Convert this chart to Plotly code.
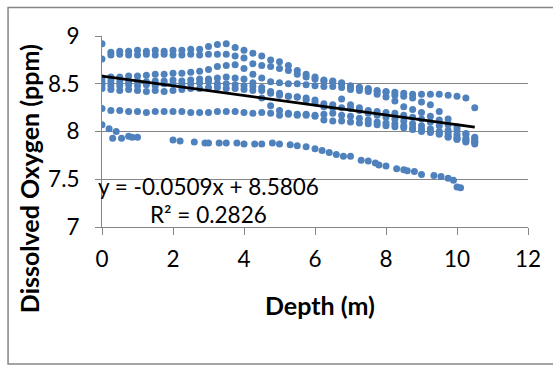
import plotly.graph_objects as go

# ---------------- data ----------------
DEPTH_GRID = [0, 0.25, 0.5, 0.75, 1.0, 1.25, 1.5, 1.75, 2.0, 2.25, 2.5, 2.75, 3.0, 3.25,
              3.5, 3.75, 4.0, 4.25, 4.5, 4.75, 5.0, 5.25, 5.5, 5.75, 6.0, 6.25, 6.5, 6.75,
              7.0, 7.25, 7.5, 7.75, 8.0, 8.25, 8.5, 8.75, 9.0, 9.25, 9.5, 9.75, 10.0, 10.25, 10.5]

DO_P1 = [8.92, 8.83, 8.84, 8.84, 8.85, 8.84, 8.85, 8.84, 8.85, 8.85, 8.86, 8.86, 8.89, 8.91,
         8.92, 8.88, 8.85, 8.82, 8.79, 8.75, 8.73, 8.69, 8.64, 8.60, 8.57, 8.54, 8.53, 8.51,
         8.48, 8.46, 8.45, 8.43, 8.42, 8.41, 8.40, 8.39, 8.39, 8.39, 8.39, 8.38, 8.37, 8.35, 8.25]
DO_P2 = [8.76, 8.80, 8.81, 8.80, 8.80, 8.81, 8.80, 8.81, 8.80, 8.80, 8.81, 8.80, 8.81, 8.81,
         8.81, 8.79, 8.77, 8.71, 8.69, 8.68, 8.66, 8.64, 8.60, 8.57, 8.55, 8.53, 8.52, 8.50,
         8.47, 8.46, 8.44, 8.42, 8.41, 8.38, 8.37, 8.35, 8.31, 8.28, 8.21, 8.13, 8.05, 7.98, 7.94]
DO_P3 = [8.56, 8.57, 8.57, 8.58, 8.58, 8.59, 8.60, 8.60, 8.61, 8.61, 8.62, 8.63, 8.65, 8.68,
         8.69, 8.70, 8.66, 8.60, 8.56, 8.52, 8.51, 8.50, 8.50, 8.49, 8.48, 8.47, 8.47, 8.46,
         8.44, 8.43, 8.42, 8.39, 8.36, 8.32, 8.26, 8.23, 8.20, 8.16, 8.12, 8.07, 8.02, 7.97, 7.93]
DO_P4 = [8.52, 8.53, 8.52, 8.52, 8.53, 8.52, 8.53, 8.53, 8.54, 8.53, 8.54, 8.55, 8.55, 8.56,
         8.57, 8.56, 8.55, 8.51, 8.43, 8.40, 8.38, 8.37, 8.36, 8.35, 8.33, 8.29, 8.28, 8.25,
         8.24, 8.22, 8.19, 8.17, 8.15, 8.13, 8.11, 8.08, 8.06, 8.03, 8.00, 7.98, 7.94, 7.91, 7.89]
DO_P5 = [8.45, 8.44, 8.43, 8.44, 8.43, 8.42, 8.43, 8.42, 8.43, 8.44, 8.45, 8.45, 8.46, 8.46,
         8.45, 8.45, 8.44, 8.43, 8.35, 8.27, 8.22, 8.19, 8.18, 8.18, 8.16, 8.12, 8.11, 8.11,
         8.10, 8.09, 8.08, 8.07, 8.06, 8.05, 8.04, 8.02, 8.00, 7.99, 7.97, 7.94, 7.92, 7.89, 7.87]
DO_P6 = [8.24, 8.22, 8.22, 8.21, 8.21, 8.20, 8.21, 8.21, 8.21, 8.21, 8.20, 8.20, 8.20, 8.21,
         8.21, 8.21, 8.20, 8.19, 8.20, 8.19, 8.17, 8.18, 8.17, 8.17, 8.17, 8.18, 8.19, 8.17,
         8.16, 8.14, 8.12, 8.10, 8.09, 8.08, 8.06, 8.04, 8.02, 8.00, 7.98, 7.95, 7.92, 7.90, 7.89]
DO_P8 = [8.49, 8.48, 8.48, 8.49, 8.48, 8.49, 8.48, 8.50, 8.50, 8.49, 8.50, 8.51, 8.52, 8.50,
         8.50, 8.49, 8.48, 8.47, 8.46, 8.42, 8.40, 8.37, 8.36, 8.33, 8.30, 8.26, 8.25, 8.34,
         8.28, 8.25, 8.22, 8.21, 8.20, 8.19, 8.17, 8.15, 8.13, 8.10, 8.06, 8.01, 7.97, 7.93, 7.90]

DEPTH_P7 = [0, 0.2, 0.4, 0.3, 0.55, 0.75, 0.85, 1.0, 2.0, 2.2, 2.6, 2.9, 3.0, 3.3, 3.5, 3.8,
            4.0, 4.3, 4.5, 4.8, 5.0, 5.3, 5.5, 5.75, 6.0, 6.2, 6.4, 6.6, 6.8, 7.0, 7.3, 7.5,
            7.7, 7.8, 8.0, 8.3, 8.5, 8.6, 8.8, 9.0, 9.35, 9.55, 9.75, 9.9, 10.0, 10.1]
DO_P7 = [8.07, 8.03, 8.00, 7.93, 7.93, 7.95, 7.94, 7.94, 7.91, 7.90, 7.89, 7.88, 7.88, 7.88,
         7.88, 7.88, 7.87, 7.87, 7.87, 7.88, 7.87, 7.86, 7.85, 7.84, 7.82, 7.80, 7.78, 7.76,
         7.74, 7.74, 7.70, 7.69, 7.67, 7.65, 7.64, 7.61, 7.60, 7.59, 7.58, 7.55, 7.54, 7.53,
         7.51, 7.49, 7.42, 7.41]

TREND_SLOPE = -0.0509
TREND_INTERCEPT = 8.5806
TREND_X = [0, 10.5]
EQ_TEXT = "y = -0.0509x + 8.5806"
R2_TEXT = "R² = 0.2826"

X_TICKS = [0, 2, 4, 6, 8, 10, 12]
Y_TICKS = [7, 7.5, 8, 8.5, 9]

# ---------------- figure ----------------
xs, ys = [], []
for prof in [DO_P1, DO_P2, DO_P3, DO_P4, DO_P5, DO_P6, DO_P8]:
    xs += DEPTH_GRID
    ys += prof
xs += DEPTH_P7
ys += DO_P7

BLUE = "#4F81BD"
GRAY = "#868686"
FONT = "Lato"

fig = go.Figure()
fig.add_trace(go.Scatter(x=xs, y=ys, mode="markers",
                         marker=dict(color=BLUE, size=7, line=dict(width=0)),
                         hoverinfo="skip", showlegend=False))
fig.add_trace(go.Scatter(x=TREND_X, y=[TREND_SLOPE * x + TREND_INTERCEPT for x in TREND_X],
                         mode="lines", line=dict(color="black", width=2.8),
                         hoverinfo="skip", showlegend=False))

L, R, T, B = 102, 22.5, 36, 138.3
W, H = 553, 365
pw, ph = W - L - R, H - T - B

def px_x(px):
    return (px - L) / pw

def px_y(py):
    return (H - B - py) / ph

fig.update_layout(
    width=W, height=H,
    margin=dict(l=L, r=R, t=T, b=B, pad=0),
    paper_bgcolor="white", plot_bgcolor="white",
    font=dict(family=FONT, color="black", size=22),
    xaxis=dict(range=[0, 12], tickvals=X_TICKS, ticks="outside", ticklen=7,
               tickcolor=GRAY, showline=True, linecolor=GRAY, linewidth=1,
               showgrid=False, zeroline=False, tickfont=dict(size=22.5),
               ticklabelstandoff=5),
    yaxis=dict(range=[7, 9], tickvals=Y_TICKS, ticktext=["7", "7.5", "8", "8.5", "9"],
               ticks="outside", ticklen=6, tickcolor=GRAY,
               showline=True, linecolor=GRAY, linewidth=1,
               showgrid=True, gridcolor=GRAY, gridwidth=1, zeroline=False,
               tickfont=dict(size=22.5), ticklabelstandoff=11),
    annotations=[
        dict(text="<b>Depth (m)</b>", x=px_x(321.5), y=px_y(305), xref="paper", yref="paper",
             showarrow=False, font=dict(size=25), xanchor="center", yanchor="middle"),
        dict(text="<b>Dissolved Oxygen (ppm)</b>", x=px_x(28), y=px_y(178.5),
             xref="paper", yref="paper", textangle=-90,
             showarrow=False, font=dict(size=25), xanchor="center", yanchor="middle"),
        dict(text=EQ_TEXT, x=px_x(209), y=px_y(186), xref="paper", yref="paper",
             showarrow=False, font=dict(size=22.5), xanchor="center", yanchor="middle"),
        dict(text=R2_TEXT, x=px_x(209), y=px_y(214), xref="paper", yref="paper",
             showarrow=False, font=dict(size=22.5), xanchor="center", yanchor="middle"),
    ],
    shapes=[dict(type="rect", xref="paper", yref="paper",
                 x0=px_x(7.5), x1=px_x(560), y0=px_y(363.5), y1=px_y(7.5),
                 line=dict(color=GRAY, width=1.5), fillcolor="rgba(0,0,0,0)", layer="below")],
)

fig.write_html("out.html")
